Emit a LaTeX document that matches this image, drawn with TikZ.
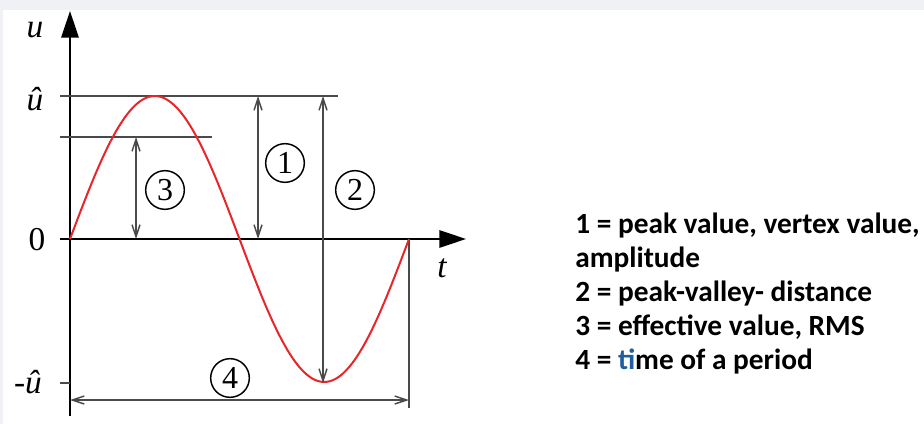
\documentclass[tikz,border=0pt]{standalone}
\usepackage{fontspec}
\setmainfont{Liberation Serif}
\newfontfamily\legendfont{Carlito}
\usetikzlibrary{arrows.meta}
\definecolor{bandgray}{HTML}{F0F1F5}
\definecolor{dimgray}{HTML}{4A4A4A}
\definecolor{tiblue}{HTML}{1F5F9F}
\definecolor{sinered}{HTML}{E8262A}
\tikzset{
    axis/.style={line width=1.5pt, -{Triangle[length=20pt, width=13pt]}},
    level/.style={dimgray, line width=1.3pt},
    dimline/.style={dimgray, line width=1.1pt,
        {Straight Barb[length=9pt, width=6pt]}-{Straight Barb[length=9pt, width=6pt]}},
    circnum/.style={circle, draw, line width=1.1pt, minimum size=29pt,
        inner sep=0pt, font=\fontsize{24}{24}\selectfont},
    axlabel/.style={font=\fontsize{25}{25}\selectfont\itshape}
}

\begin{document}
\begin{tikzpicture}[x=0.75pt, y=-0.75pt]

% background
\fill[white] (0,0) rectangle (924,424);
\fill[bandgray] (0,0) rectangle (924,10);
\fill[bandgray] (0,0) rectangle (3,424);
\useasboundingbox (0,0) rectangle (924,424);

% points of the plot
\coordinate (O) at (70,239);
\coordinate (ybot) at (70,416);
\coordinate (ytop) at (70,11);
\coordinate (xbeg) at (60,239);
\coordinate (xend) at (466,239);
\coordinate (peakL) at (60,96);
\coordinate (peakR) at (338,96);
\coordinate (rmsL) at (60,137);
\coordinate (rmsR) at (212,137);
\coordinate (lowL) at (60,383);
\coordinate (lowR) at (70,383);
\coordinate (endT) at (409,239);
\coordinate (endB) at (409,408);

% axes
\draw[axis] (ybot) -- (ytop);
\draw[axis] (xbeg) -- (xend);

% level lines
\draw[level] (peakL) -- (peakR);
\draw[level] (rmsL) -- (rmsR);
\draw[level] (lowL) -- (lowR);
\draw[level] (endT) -- (endB);

% sine curve
\draw[sinered, line width=1.5pt, smooth, samples=120, domain=0:339]
    plot ({70+\x}, {239-143*sin(\x/339*360)});

% dimension arrows
\coordinate (a3t) at (136,137);
\coordinate (a3b) at (136,239);
\coordinate (a1t) at (258,96);
\coordinate (a1b) at (258,239);
\coordinate (a2t) at (323,96);
\coordinate (a2b) at (323,383);
\coordinate (a4l) at (70,400);
\coordinate (a4r) at (409,400);
\draw[dimline] (a3t) -- (a3b);
\draw[dimline] (a1t) -- (a1b);
\draw[dimline] (a2t) -- (a2b);
\draw[dimline] (a4l) -- (a4r);

% circled numbers
\node[circnum] (n1) at (285,163) {1};
\node[circnum] (n2) at (355,190) {2};
\node[circnum] (n3) at (165,190) {3};
\node[circnum] (n4) at (230,378) {4};

% axis labels
\node[axlabel] (lu) at (35,30) {u};
\node[axlabel] (luhat) at (35,99) {û};
\node[font=\fontsize{25}{25}\selectfont] (lzero) at (37,240) {0};
\node[font=\fontsize{25}{25}\selectfont] (lmin) at (28,382) {-\textit{û}};
\node[axlabel] (lt) at (442,268) {t};

% legend
\node[anchor=north west, inner sep=0pt, align=left,
      font=\legendfont\bfseries\fontsize{22}{25.5}\selectfont] (legend) at (575,213)
    {1 = peak value, vertex value,\\
     amplitude\\
     2 = peak-valley- distance\\
     3 = effective value, RMS\\
     4 = {\color{tiblue}ti}me of a period};

\end{tikzpicture}
\end{document}
